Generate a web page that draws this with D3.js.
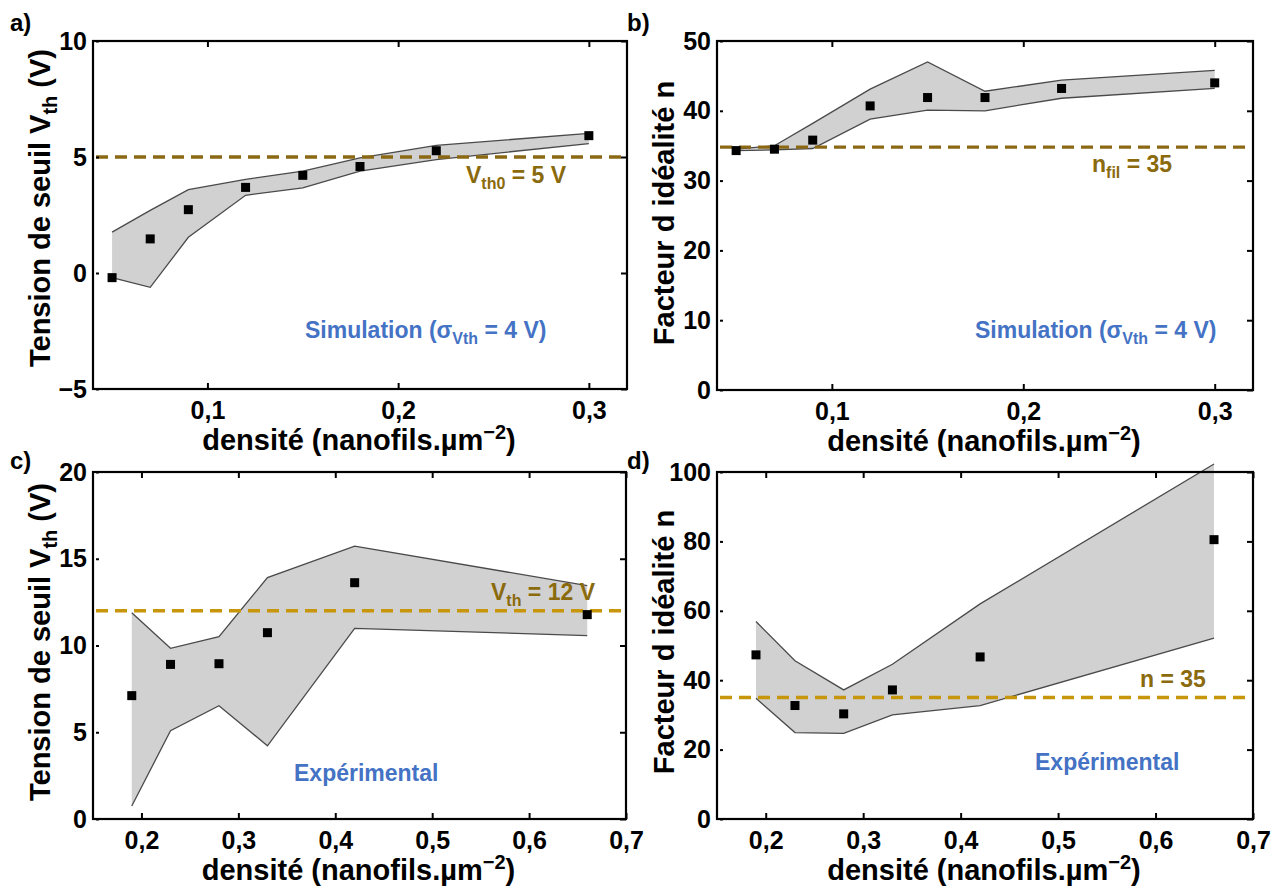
<!DOCTYPE html>
<html><head><meta charset="utf-8">
<script src="https://cdn.jsdelivr.net/npm/d3@7"></script>
<style>
html,body{margin:0;padding:0;background:#fff;}
svg{display:block;}
text{font-family:'Liberation Sans',Arial,sans-serif;font-weight:bold;}
</style></head>
<body><svg id="c" width="1271" height="886"></svg>
<script>
// ---- data ----
const xSim = [0.05, 0.07, 0.09, 0.12, 0.15, 0.18, 0.22, 0.30];
const vthSim   = [-0.2, 1.47, 2.73, 3.69, 4.21, 4.59, 5.27, 5.92];
const vthSimHi = [1.76, 2.70, 3.59, 4.04, 4.39, 4.96, 5.50, 6.02];
const vthSimLo = [-0.2, -0.62, 1.54, 3.35, 3.67, 4.39, 4.89, 5.58];
const nSim   = [34.3, 34.5, 35.8, 40.7, 41.9, 41.9, 43.2, 44.0];
const nSimHi = [34.5, 35.0, 38.2, 43.1, 47.0, 42.8, 44.4, 45.8];
const nSimLo = [34.3, 34.4, 34.6, 38.8, 40.1, 40.0, 41.8, 43.2];

const xExp = [0.19, 0.23, 0.28, 0.33, 0.42, 0.66];
const vthExp   = [7.11, 8.91, 8.95, 10.74, 13.62, 11.78];
const vthExpHi = [11.89, 9.84, 10.51, 13.91, 15.73, 13.45];
const vthExpLo = [0.75, 5.09, 6.53, 4.22, 10.99, 10.57];
const nExp   = [47.3, 32.7, 30.3, 37.2, 46.7, 80.5];
const nExpHi = [56.9, 45.6, 37.2, 44.6, 62.0, 102.3];
const nExpLo = [34.8, 24.9, 24.7, 30.0, 32.7, 52.1];

const xTicksSim = [0.1, 0.2, 0.3];
const xTicksExp = [0.2, 0.3, 0.4, 0.5, 0.6, 0.7];
const yTicksA = [-5, 0, 5, 10];
const yTicksB = [0, 10, 20, 30, 40, 50];
const yTicksC = [0, 5, 10, 15, 20];
const yTicksD = [0, 20, 40, 60, 80, 100];
const refA = 5, refB = 34.8, refC = 12, refD = 35;

// ---- drawing ----
const svg = d3.select('#c');
const GOLD_TXT = '#8a6a0c';
const BLUE = '#4472c4';
const fmtX = v => d3.format('.1f')(v).replace('.', ',');
const fmtY = v => (v < 0 ? '\u2212' + Math.abs(v) : String(v));

function addRich(g, x, y, parts, opts) {
  const t = g.append('text').attr('x', x).attr('y', y)
    .attr('fill', opts.fill).attr('font-size', opts.size);
  if (opts.rotate) t.attr('transform', `rotate(-90,${x},${y})`).attr('text-anchor', 'middle');
  if (opts.anchor) t.attr('text-anchor', opts.anchor);
  let shift = 0;
  parts.forEach(p => {
    const s = t.append('tspan').text(p.t);
    const target = p.sub ? opts.subDy : (p.sup ? -opts.supDy : 0);
    if (target !== shift) { s.attr('dy', target - shift); shift = target; }
    if (p.sub || p.sup) s.attr('font-size', opts.subSize);
  });
  return t;
}

function panel(cfg) {
  const g = svg.append('g');
  const {L, R, T, B} = cfg.box;
  const x = d3.scaleLinear().domain(cfg.xDom).range([L, R]);
  const y = d3.scaleLinear().domain(cfg.yDom).range([B, T]);
  const idx = d3.range(cfg.xs.length);

  const area = d3.area().x(i => x(cfg.xs[i])).y0(i => y(cfg.lo[i])).y1(i => y(cfg.hi[i]));
  g.append('path').datum(idx).attr('d', area).attr('fill', '#d1d1d1');
  [cfg.hi, cfg.lo].forEach(arr => {
    g.append('path').datum(idx)
      .attr('d', d3.line().x(i => x(cfg.xs[i])).y(i => y(arr[i])))
      .attr('fill', 'none').attr('stroke', '#4a4a4a').attr('stroke-width', 1.3);
  });

  g.append('line').attr('x1', L + 3).attr('x2', R).attr('y1', y(cfg.ref)).attr('y2', y(cfg.ref))
    .attr('stroke', cfg.refColor).attr('stroke-width', 3.4).attr('stroke-dasharray', '12,7');

  const s = 9;
  g.selectAll('rect.pt').data(idx).join('rect').attr('class', 'pt')
    .attr('x', i => x(cfg.xs[i]) - s / 2).attr('y', i => y(cfg.ys[i]) - s / 2)
    .attr('width', s).attr('height', s).attr('fill', '#000');

  // axes
  const ax = (a) => a.tickSizeOuter(0);
  const gb = g.append('g').attr('transform', `translate(0,${B})`)
    .call(ax(d3.axisBottom(x).tickValues(cfg.xTicks).tickFormat(fmtX).tickSize(-6).tickPadding(12)));
  const gt = g.append('g').attr('transform', `translate(0,${T})`)
    .call(ax(d3.axisTop(x).tickValues(cfg.xTicks).tickFormat('').tickSize(-6)));
  const gl = g.append('g').attr('transform', `translate(${L},0)`)
    .call(ax(d3.axisLeft(y).tickValues(cfg.yTicks).tickFormat(fmtY).tickSize(-6).tickPadding(6)));
  const gr = g.append('g').attr('transform', `translate(${R},0)`)
    .call(ax(d3.axisRight(y).tickValues(cfg.yTicks).tickFormat('').tickSize(-6)));
  [gb, gt, gl, gr].forEach(a => {
    a.select('.domain').remove();
    a.selectAll('line').attr('stroke', '#000').attr('stroke-width', 2);
    a.selectAll('text').attr('font-size', 25).attr('fill', '#000')
      .style('font-family', "'Liberation Sans',Arial,sans-serif").style('font-weight', 'bold');
  });
  gl.selectAll('line').attr('x1', 3);

  g.append('rect').attr('x', L).attr('y', T).attr('width', R - L).attr('height', B - T)
    .attr('fill', 'none').attr('stroke', '#000').attr('stroke-width', 2.2);

  // axis titles
  addRich(g, (L + R) / 2 - 1, B + 61, [{t: 'densité (nanofils.µm'}, {t: '\u22122', sup: true}, {t: ')'}],
    {fill: '#000', size: 29, subSize: 20, supDy: 11, subDy: 6, anchor: 'middle'});
  addRich(g, L - 43, cfg.ytitleY, cfg.ytitle,
    {fill: '#000', size: 29, subSize: 20, subDy: 7, supDy: 8, rotate: true});

  // panel label
  g.append('text').attr('x', cfg.tag[0]).attr('y', cfg.tag[1]).attr('font-size', 24).text(cfg.tagText);

  // annotations
  addRich(g, cfg.refLab[0], cfg.refLab[1], cfg.refText,
    {fill: GOLD_TXT, size: 23, subSize: 16, subDy: 6, supDy: 8});
  addRich(g, cfg.note[0], cfg.note[1], cfg.noteText,
    {fill: BLUE, size: 23, subSize: 16, subDy: 6, supDy: 8});
}

const simNote = [{t: 'Simulation (\u03c3'}, {t: 'Vth', sub: true}, {t: ' = 4 V)'}];
const vthTitle = [{t: 'Tension de seuil V'}, {t: 'th', sub: true}, {t: ' (V)'}];
const nTitle = [{t: 'Facteur d idéalité n'}];

panel({box: {L: 93, R: 627, T: 41, B: 389}, xDom: [0.04, 0.32], yDom: [-5, 10],
  xs: xSim, ys: vthSim, hi: vthSimHi, lo: vthSimLo, ref: refA, refColor: '#8b6914',
  xTicks: xTicksSim, yTicks: yTicksA, ytitle: vthTitle, ytitleY: 208,
  tag: [10, 31], tagText: 'a)', refLab: [466, 183],
  refText: [{t: 'V'}, {t: 'th0', sub: true}, {t: ' = 5 V'}],
  note: [305, 338], noteText: simNote});

panel({box: {L: 717, R: 1253, T: 41, B: 390}, xDom: [0.04, 0.32], yDom: [0, 50],
  xs: xSim, ys: nSim, hi: nSimHi, lo: nSimLo, ref: refB, refColor: '#8b6914',
  xTicks: xTicksSim, yTicks: yTicksB, ytitle: nTitle, ytitleY: 213,
  tag: [627, 31], tagText: 'b)', refLab: [1092, 172],
  refText: [{t: 'n'}, {t: 'fil', sub: true}, {t: ' = 35'}],
  note: [975, 338], noteText: simNote});

panel({box: {L: 93, R: 626, T: 472, B: 819}, xDom: [0.15, 0.7], yDom: [0, 20],
  xs: xExp, ys: vthExp, hi: vthExpHi, lo: vthExpLo, ref: refC, refColor: '#c8960a',
  xTicks: xTicksExp, yTicks: yTicksC, ytitle: vthTitle, ytitleY: 642,
  tag: [10, 469], tagText: 'c)', refLab: [491, 600],
  refText: [{t: 'V'}, {t: 'th', sub: true}, {t: ' = 12 V'}],
  note: [294, 781], noteText: [{t: 'Expérimental'}]});

panel({box: {L: 717, R: 1253, T: 472, B: 819}, xDom: [0.15, 0.7], yDom: [0, 100],
  xs: xExp, ys: nExp, hi: nExpHi, lo: nExpLo, ref: refD, refColor: '#c8960a',
  xTicks: xTicksExp, yTicks: yTicksD, ytitle: nTitle, ytitleY: 642,
  tag: [627, 469], tagText: 'd)', refLab: [1140, 687],
  refText: [{t: 'n = 35'}],
  note: [1035, 770], noteText: [{t: 'Expérimental'}]});
</script></body></html>
